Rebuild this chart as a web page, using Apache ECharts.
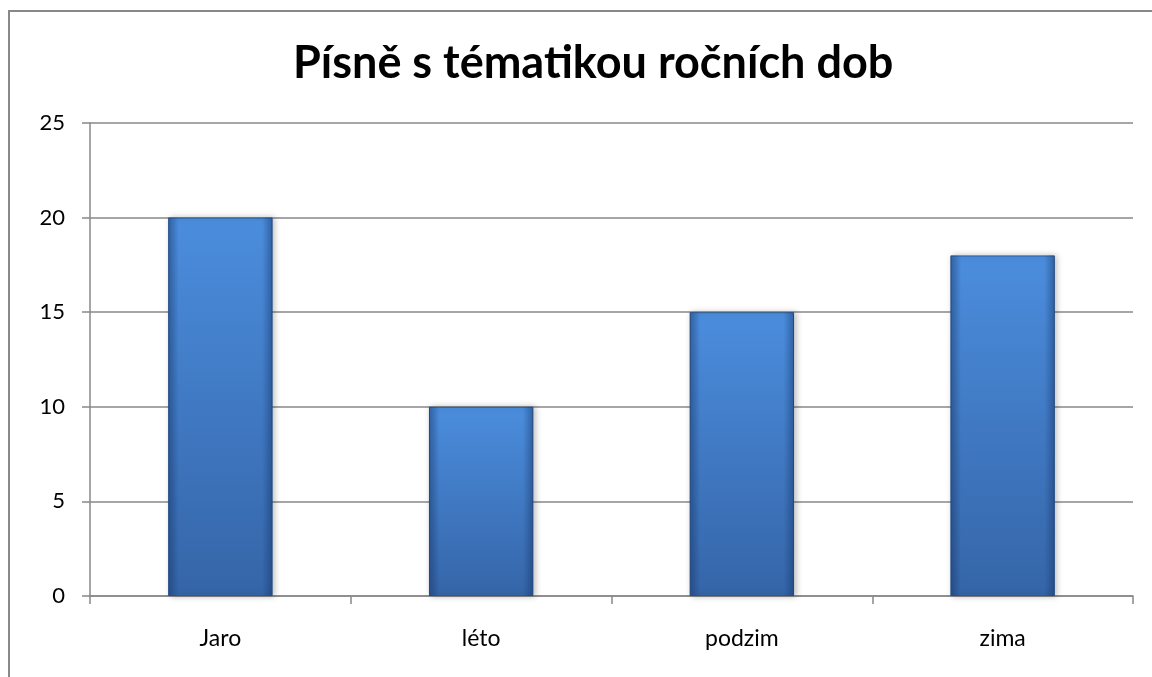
<!DOCTYPE html>
<html>
<head>
<meta charset="utf-8">
<script src="https://cdn.jsdelivr.net/npm/echarts@6/dist/echarts.min.js"></script>
<style>
  html, body { margin: 0; padding: 0; background: #fff; }
  #chart { width: 1152px; height: 677px; }
</style>
</head>
<body>
<div id="chart"></div>
<script>
const categories = ['Jaro', 'léto', 'podzim', 'zima']
const values = [20, 10, 15, 18]

const chart = echarts.init(document.getElementById('chart'))

chart.setOption({
  backgroundColor: '#fff',
  animation: false,
  graphic: [{
    type: 'rect',
    shape: { x: 9, y: 11, width: 1400, height: 900 },
    style: { fill: 'none', stroke: '#888', lineWidth: 2 },
    silent: true,
  }],
  title: {
    text: 'Písně s tématikou ročních dob',
    left: 288,
    top: 36,
    textStyle: { fontFamily: 'Lato', fontWeight: 'bold', fontSize: 45, color: '#000' },
  },
  grid: { left: 90, right: 19, top: 123, bottom: 81 },
  xAxis: {
    type: 'category',
    data: categories,
    axisLine: { lineStyle: { color: '#888', width: 1.5 } },
    axisTick: { show: true, length: 8, lineStyle: { color: '#888', width: 1.5 } },
    axisLabel: { color: '#000', fontFamily: 'Lato', fontSize: 23, margin: 31 },
  },
  yAxis: {
    type: 'value',
    min: 0,
    max: 25,
    interval: 5,
    axisLine: { show: true, lineStyle: { color: '#888', width: 1.5 } },
    axisTick: { show: true, length: 8, lineStyle: { color: '#888', width: 1.5 } },
    axisLabel: { color: '#000', fontFamily: 'Lato', fontSize: 22, margin: 25 },
    splitLine: { lineStyle: { color: '#888', width: 1.5 } },
  },
  series: [{
    type: 'bar',
    data: values,
    barWidth: '40%',
    itemStyle: {
      color: {
        type: 'linear', x: 0, y: 0, x2: 0, y2: 1,
        colorStops: [
          { offset: 0, color: '#4b8ddd' },
          { offset: 1, color: '#3565a8' },
        ],
      },
      borderColor: '#2c5a96',
      borderWidth: 1,
      shadowColor: 'rgba(0,0,0,0.25)',
      shadowBlur: 6,
      shadowOffsetX: 2,
    },
  }, {
    // darker side edges of the bars
    type: 'bar',
    data: values,
    barWidth: '40%',
    barGap: '-100%',
    silent: true,
    itemStyle: {
      color: {
        type: 'linear', x: 0, y: 0, x2: 1, y2: 0,
        colorStops: [
          { offset: 0, color: 'rgba(20,50,100,0.45)' },
          { offset: 0.1, color: 'rgba(20,50,100,0)' },
          { offset: 0.9, color: 'rgba(20,50,100,0)' },
          { offset: 1, color: 'rgba(20,50,100,0.45)' },
        ],
      },
    },
  }],
})
</script>
</body>
</html>
